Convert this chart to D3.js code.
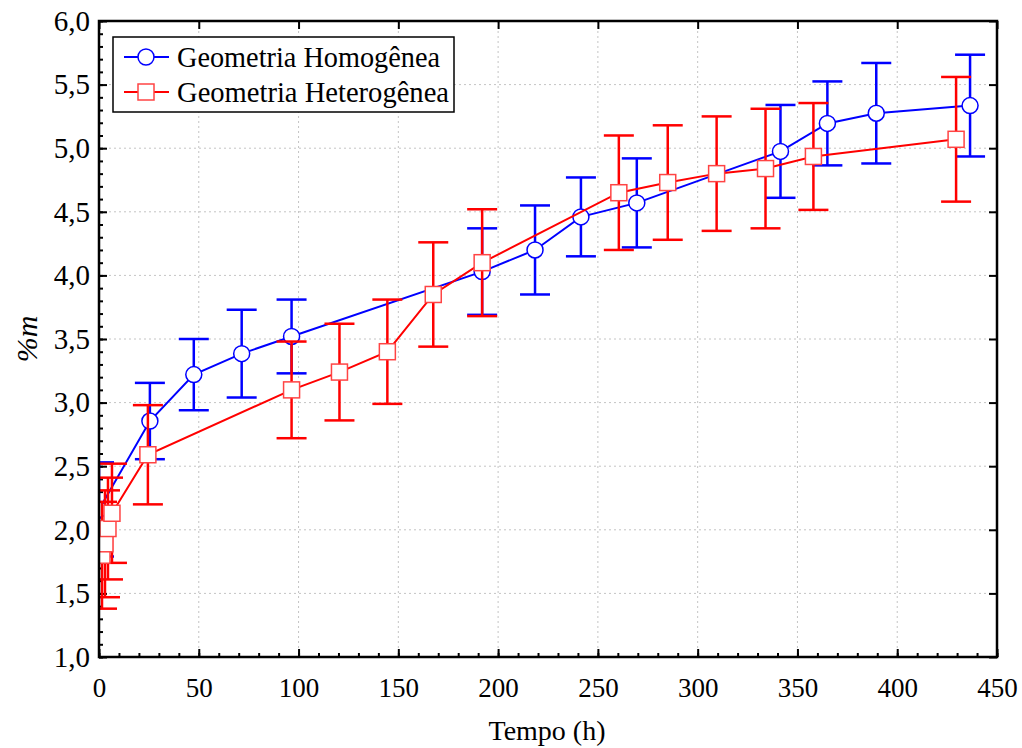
<!DOCTYPE html>
<html lang="pt">
<head>
<meta charset="UTF-8">
<title>%m vs Tempo</title>
<style>
  * { margin: 0; padding: 0; }
  body { background: #fff; }
  svg { display: block; font-family: "Liberation Serif", "DejaVu Serif", serif; }
</style>
</head>
<body>
<div id="chart"></div>
<script src="https://cdnjs.cloudflare.com/ajax/libs/d3/7.8.5/d3.min.js"></script>
<script>
// Geometria Homogênea
var homTime  = [0, 25.5, 47.5, 71.5, 96.5, 192, 218.5, 241.5, 269.5, 341.5, 365, 389.5, 436.5];
var homValue = [2.16, 2.855, 3.22, 3.385, 3.52, 4.03, 4.2, 4.46, 4.57, 4.975, 5.195, 5.275, 5.335];
var homErr   = [0.37, 0.30, 0.28, 0.345, 0.29, 0.34, 0.35, 0.31, 0.35, 0.365, 0.33, 0.395, 0.40];

// Geometria Heterogênea
var hetTime  = [1.5, 3, 4.5, 6.5, 24.5, 96.5, 120.5, 144.5, 167.5, 192, 260.5, 285, 309.5, 334, 358, 429.5];
var hetValue = [1.80, 1.89, 2.01, 2.13, 2.59, 3.10, 3.24, 3.40, 3.85, 4.10, 4.65, 4.73, 4.80, 4.84, 4.935, 5.07];
var hetErr   = [0.42, 0.42, 0.40, 0.39, 0.39, 0.38, 0.38, 0.41, 0.41, 0.42, 0.45, 0.45, 0.45, 0.47, 0.42, 0.49];

var xTicks = [0, 50, 100, 150, 200, 250, 300, 350, 400, 450];
var yTicks = [1.0, 1.5, 2.0, 2.5, 3.0, 3.5, 4.0, 4.5, 5.0, 5.5, 6.0];
var seriesNames = ['Geometria Homogênea', 'Geometria Heterogênea'];

var W = 1022, H = 748;
var pL = 99, pR = 997, pT = 21, pB = 657;

var svg = d3.select('#chart').append('svg')
  .attr('width', W)
  .attr('height', H);

svg.append('defs').append('clipPath').attr('id', 'plotclip')
  .append('rect').attr('x', pL).attr('y', pT).attr('width', pR - pL).attr('height', pB - pT);

var x = d3.scaleLinear().domain([0, 450]).range([pL, pR]);
var y = d3.scaleLinear().domain([1, 6]).range([pB, pT]);

var fmtY = function(d) { return d3.format('.1f')(d).replace('.', ','); };

// grid
var grid = svg.append('g').attr('class', 'grid')
  .attr('stroke', '#c4c4c4').attr('stroke-width', 1).attr('stroke-dasharray', '2,3');
grid.selectAll('line.gx').data(xTicks.slice(1, -1)).enter().append('line')
  .attr('x1', function(d) { return x(d); }).attr('x2', function(d) { return x(d); })
  .attr('y1', pT).attr('y2', pB);
grid.selectAll('line.gy').data(yTicks.slice(1, -1)).enter().append('line')
  .attr('y1', function(d) { return y(d); }).attr('y2', function(d) { return y(d); })
  .attr('x1', pL).attr('x2', pR);

// axes (ticks pointing inward)
var xMinor = d3.range(0, 451, 10);
var yMinor = d3.range(10, 61, 1).map(function(d) { return d / 10; });

var xAxis = svg.append('g').attr('transform', 'translate(0,' + pB + ')')
  .call(d3.axisBottom(x).tickValues(xMinor).tickSize(-4).tickFormat(''));
xAxis.select('.domain').remove();
var xMajor = svg.append('g').attr('transform', 'translate(0,' + pB + ')')
  .call(d3.axisBottom(x).tickValues(xTicks).tickSize(-8).tickPadding(21).tickFormat(d3.format('d')));
xMajor.select('.domain').remove();
xMajor.selectAll('text').attr('font-size', 27).attr('fill', '#000')
  .attr('font-family', '"Liberation Serif", serif');

var yAxis = svg.append('g').attr('transform', 'translate(' + pL + ',0)')
  .call(d3.axisLeft(y).tickValues(yMinor).tickSize(-4).tickFormat(''));
yAxis.select('.domain').remove();
var yMajor = svg.append('g').attr('transform', 'translate(' + pL + ',0)')
  .call(d3.axisLeft(y).tickValues(yTicks).tickSize(-8).tickPadding(9).tickFormat(fmtY));
yMajor.select('.domain').remove();
yMajor.selectAll('text').attr('font-size', 29).attr('fill', '#000')
  .attr('font-family', '"Liberation Serif", serif');

// top and right axes (major ticks only)
var topAxis = svg.append('g').attr('transform', 'translate(0,' + pT + ')')
  .call(d3.axisTop(x).tickValues(xTicks).tickSize(-8).tickFormat(''));
topAxis.select('.domain').remove();
var rightAxis = svg.append('g').attr('transform', 'translate(' + pR + ',0)')
  .call(d3.axisRight(y).tickValues(yTicks).tickSize(-8).tickFormat(''));
rightAxis.select('.domain').remove();
svg.selectAll('.tick line').attr('stroke', '#000').attr('stroke-width', 2);

// axis titles
svg.append('text')
  .attr('x', 547).attr('y', 740)
  .attr('text-anchor', 'middle').attr('font-size', 28)
  .text('Tempo (h)');
svg.append('text')
  .attr('transform', 'translate(37,' + ((pT + pB) / 2) + ') rotate(-90)')
  .attr('text-anchor', 'middle').attr('font-size', 30).attr('font-style', 'italic')
  .text('%m');

function drawSeries(times, values, errs, color, marker) {
  var pts = times.map(function(t, i) { return { t: t, v: values[i], e: errs[i] }; });
  var g = svg.append('g').attr('clip-path', 'url(#plotclip)');
  var line = d3.line().x(function(d) { return x(d.t); }).y(function(d) { return y(d.v); });
  g.append('path').datum(pts)
    .attr('d', line).attr('fill', 'none')
    .attr('stroke', color).attr('stroke-width', 2);

  var cap = 15;
  var eb = g.append('g').attr('stroke', color).attr('stroke-width', 2.5);
  eb.selectAll('line.v').data(pts).enter().append('line')
    .attr('x1', function(d) { return x(d.t); }).attr('x2', function(d) { return x(d.t); })
    .attr('y1', function(d) { return y(d.v + d.e); }).attr('y2', function(d) { return y(d.v - d.e); });
  eb.selectAll('line.t').data(pts).enter().append('line')
    .attr('x1', function(d) { return x(d.t) - cap; }).attr('x2', function(d) { return x(d.t) + cap; })
    .attr('y1', function(d) { return y(d.v + d.e); }).attr('y2', function(d) { return y(d.v + d.e); });
  eb.selectAll('line.b').data(pts).enter().append('line')
    .attr('x1', function(d) { return x(d.t) - cap; }).attr('x2', function(d) { return x(d.t) + cap; })
    .attr('y1', function(d) { return y(d.v - d.e); }).attr('y2', function(d) { return y(d.v - d.e); });

  if (marker === 'circle') {
    g.selectAll('circle').data(pts).enter().append('circle')
      .attr('cx', function(d) { return x(d.t); }).attr('cy', function(d) { return y(d.v); })
      .attr('r', 8).attr('fill', '#fff').attr('stroke', color).attr('stroke-width', 1.5);
  } else {
    g.selectAll('rect').data(pts).enter().append('rect')
      .attr('x', function(d) { return x(d.t) - 8; }).attr('y', function(d) { return y(d.v) - 8; })
      .attr('width', 16).attr('height', 16)
      .attr('fill', '#fff').attr('stroke', '#f44').attr('stroke-width', 1.5);
  }
}

drawSeries(homTime, homValue, homErr, '#0000ff', 'circle');
drawSeries(hetTime, hetValue, hetErr, '#ff0000', 'square');

// frame
svg.append('rect')
  .attr('x', pL).attr('y', pT)
  .attr('width', pR - pL).attr('height', pB - pT)
  .attr('fill', 'none').attr('stroke', '#000').attr('stroke-width', 2.5);

// legend
var lg = svg.append('g');
lg.append('rect').attr('x', 113).attr('y', 37).attr('width', 341).attr('height', 75)
  .attr('fill', '#fff').attr('stroke', '#000').attr('stroke-width', 1.5);
var lcolors = ['#0000ff', '#ff0000'];
seriesNames.forEach(function(name, i) {
  var cy = 57 + i * 35;
  lg.append('line').attr('x1', 124).attr('x2', 169).attr('y1', cy).attr('y2', cy)
    .attr('stroke', lcolors[i]).attr('stroke-width', 2);
  if (i === 0) {
    lg.append('circle').attr('cx', 146).attr('cy', cy).attr('r', 8)
      .attr('fill', '#fff').attr('stroke', lcolors[i]).attr('stroke-width', 1.5);
  } else {
    lg.append('rect').attr('x', 138).attr('y', cy - 8).attr('width', 16).attr('height', 16)
      .attr('fill', '#fff').attr('stroke', '#f44').attr('stroke-width', 1.5);
  }
  lg.append('text').attr('x', 177).attr('y', cy + 10).attr('font-size', 30)
    .attr('textLength', i === 0 ? 263 : 272).attr('lengthAdjust', 'spacingAndGlyphs')
    .text(name);
});
</script>
</body>
</html>
